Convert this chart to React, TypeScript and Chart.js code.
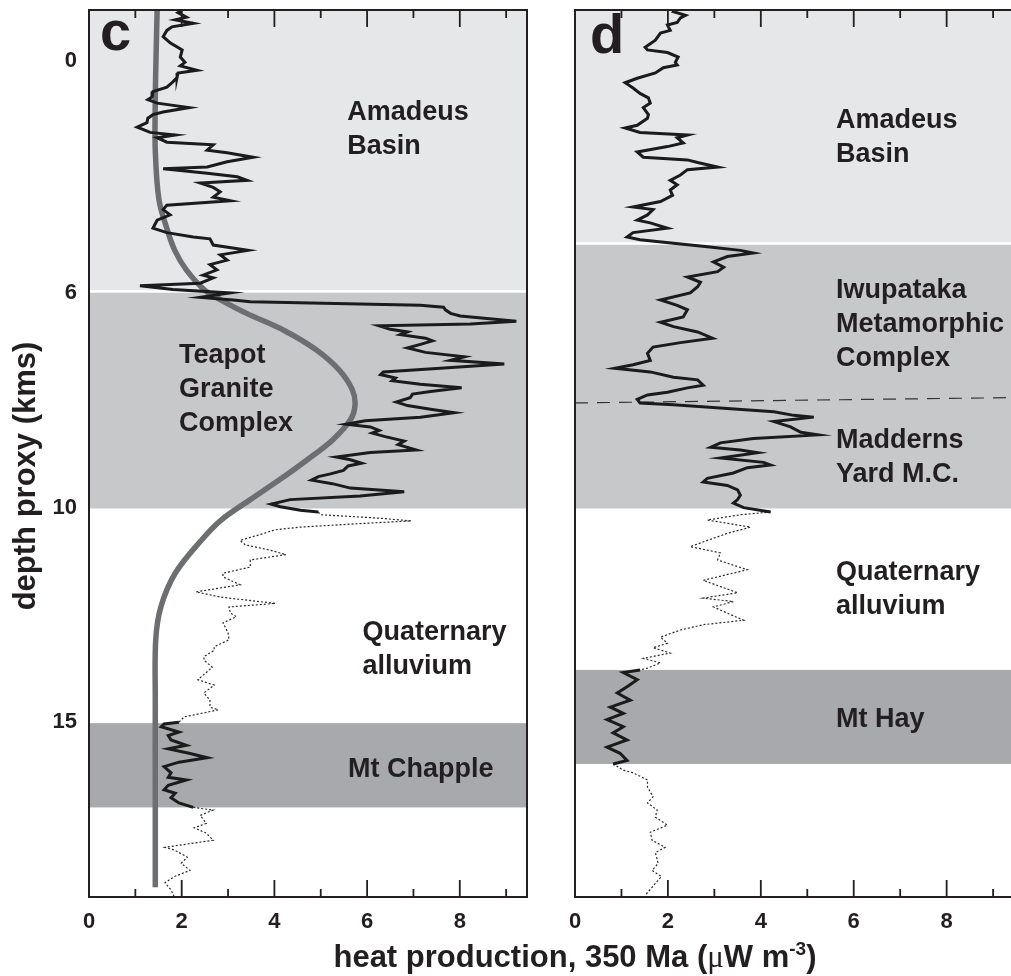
import React, { useEffect, useRef } from "react";
import { Chart, registerables } from "chart.js";

Chart.register(...registerables);

const FONT = '"Liberation Sans", Arial, Helvetica, sans-serif';
const INK = "#231f20";

// ---------------- data ----------------
const X_MAX = 9.45; // heat production axis limit (µW m-3)
const TRAVERSE_MAX = 100; // depth-proxy traverse, arbitrary sample units (top = 0)

const xLabelTicks = [0, 2, 4, 6, 8];
const xMinorTicks = [1, 3, 5, 7, 9];

const yTickPositions = [5.7, 31.9, 56.1, 80.3];
const yTickLabels = ["0", "6", "10", "15"];

// panel c: measured heat production log
const cDepth = [
  0.0, 0.3, 0.8, 1.1, 1.5, 1.9, 2.3, 3.0, 3.7, 4.5, 5.3, 5.9, 6.3, 6.8, 7.1, 7.6, 8.1, 8.7, 9.2, 9.8,
  10.1, 10.5, 11.0, 11.5, 11.8, 12.2, 12.7, 13.2, 13.8, 14.1, 14.4, 14.9, 15.2, 15.8, 16.1, 16.6, 17.1, 17.7, 17.9, 18.4,
  18.8, 19.2, 19.5, 20.0, 20.5, 21.1, 21.5, 22.0, 22.5, 23.1, 23.7, 24.6, 25.1, 25.6, 25.8, 26.5, 27.1, 27.6, 28.2, 28.7,
  29.3, 29.9, 30.2, 30.8, 31.1, 31.5, 31.9, 32.4, 32.7, 32.9, 33.3, 33.5, 33.8, 34.2, 34.5, 35.1, 35.4, 35.6, 36.0, 36.3,
  36.6, 37.0, 37.3, 37.7, 38.1, 38.6, 39.1, 39.5, 39.9, 40.4, 40.8, 41.1, 41.5, 41.8, 42.2, 42.6, 43.0, 43.3, 43.7, 44.2,
  44.6, 45.0, 45.4, 45.9, 46.3, 46.7, 47.0, 47.4, 47.7, 48.1, 48.6, 49.0, 49.6, 49.9, 50.4, 50.7, 51.1, 51.4, 51.9, 52.3,
  52.6, 53.0, 53.4, 53.9, 54.3, 54.8, 55.2, 55.7, 56.0, 56.4, 56.6, 56.9, 57.3, 57.6, 57.9, 58.3, 58.6, 59.2, 59.8, 60.3,
  60.9, 61.4, 62.0, 62.8, 63.5, 63.9, 64.8, 65.6, 66.2, 66.9, 67.3, 68.0, 68.4, 69.1, 70.2, 71.0, 71.8, 72.2, 72.9, 73.3,
  74.1, 75.5, 76.1, 77.0, 77.8, 78.6, 78.9, 79.7, 80.3, 80.5, 80.8, 81.4, 81.8, 82.3, 82.9, 83.3, 83.8, 84.3, 84.8, 85.3,
  86.0, 86.5, 86.8, 87.4, 87.9, 88.3, 88.8, 89.4, 89.9, 90.2, 90.8, 91.7, 92.2, 92.8, 93.6, 94.4, 94.7, 95.5, 96.2, 97.0,
  97.7, 98.4, 99.2, 100.0,
];
const cHeat = [
  2.01, 1.92, 2.1, 1.86, 2.25, 1.79, 1.68, 1.6, 1.75, 2.01, 1.97, 2.07, 1.97, 2.33, 1.92, 1.9, 1.81, 1.68, 1.38, 1.36,
  1.27, 1.47, 2.16, 1.6, 1.38, 1.27, 1.25, 1.04, 1.32, 1.86, 1.47, 1.68, 2.68, 2.55, 2.98, 3.54, 2.98, 2.55, 1.6, 2.55,
  3.2, 3.41, 2.4, 2.68, 2.83, 2.68, 3.05, 1.68, 1.6, 1.75, 1.47, 1.38, 1.68, 2.25, 2.61, 2.68, 3.43, 2.83, 2.98, 2.61,
  2.76, 2.46, 2.68, 2.4, 1.1, 1.81, 3.05, 2.4, 3.11, 3.48, 7.15, 7.65, 7.69, 7.8, 8.01, 9.22, 8.23, 6.26, 6.5, 6.87,
  6.72, 7.26, 7.41, 7.15, 6.87, 7.26, 8.1, 7.8, 8.96, 7.58, 6.35, 6.29, 6.61, 6.54, 7.15, 8.04, 7.37, 6.98, 6.93, 6.63,
  6.87, 7.37, 7.88, 7.15, 5.96, 5.55, 6.07, 6.26, 6.11, 6.39, 6.8, 6.67, 7.06, 6.07, 5.34, 5.64, 5.88, 5.59, 5.49, 5.21,
  4.95, 4.8, 5.25, 5.64, 6.8, 5.85, 4.34, 3.93, 4.13, 4.56, 4.95, 4.99, 6.29, 6.95, 5.85, 4.56, 4.02, 3.65, 3.26, 3.37,
  3.91, 4.25, 3.48, 3.48, 2.89, 2.89, 3.26, 2.31, 2.85, 4.02, 3.02, 3.05, 3.18, 2.89, 3.0, 3.02, 2.7, 2.7, 2.48, 2.48,
  2.66, 2.35, 2.7, 2.48, 2.61, 2.61, 2.79, 2.05, 1.94, 1.62, 1.56, 1.94, 1.71, 1.77, 2.1, 1.71, 2.16, 2.55, 1.94, 1.62,
  1.77, 1.71, 2.1, 1.71, 1.62, 1.86, 1.77, 1.94, 2.25, 2.68, 2.4, 2.53, 2.27, 2.53, 2.68, 1.64, 1.84, 2.12, 1.99, 2.18,
  1.84, 1.64, 1.77, 1.84,
];
// panel c: stretches logged over Quaternary cover (dotted)
const cCoverFrom = [56.6, 89.9];
const cCoverTo = [80.3, 100];
// panel c: modelled smooth heat production (grey curve)
const cModelDepth = [0, 4.5, 10.1, 15.8, 21.4, 24.8, 27.1, 29.3, 31.6, 32.7, 34.2, 36.1, 38.3, 40.6, 42.8, 44.5, 46.2, 48.5, 50.7, 53.0, 55.2, 57.5, 59.8, 63.5, 67.3, 71.0, 77.8, 89.1, 98.9];
const cModelHeat = [1.47, 1.45, 1.43, 1.43, 1.51, 1.69, 1.85, 2.1, 2.5, 2.85, 3.4, 4.2, 4.9, 5.4, 5.68, 5.74, 5.64, 5.25, 4.71, 4.1, 3.48, 2.85, 2.42, 1.86, 1.55, 1.44, 1.43, 1.43, 1.43];
// panel c: geological units
const cUnitTop = [0, 31.7, 56.2, 80.4, 89.9];
const cUnitBase = [31.7, 56.2, 80.4, 89.9, 100];
const cUnitShade = ["light", "medium", "none", "dark", "none"];
const cUnitNames = ["Amadeus\nBasin", "Teapot\nGranite\nComplex", "Quaternary\nalluvium", "Mt Chapple", ""];

// panel d: measured heat production log
const dDepth = [
  0.0, 0.2, 0.6, 0.9, 1.4, 1.7, 2.3, 2.6, 3.4, 4.2, 4.5, 4.8, 5.3, 5.9, 6.2, 6.5, 7.1, 7.7, 8.2, 8.8,
  9.4, 9.9, 10.5, 11.0, 11.8, 12.2, 13.0, 13.3, 13.8, 14.1, 14.4, 15.0, 15.4, 16.0, 16.6, 16.9, 17.2, 17.7, 18.0, 18.6,
  19.2, 19.7, 20.3, 20.9, 21.6, 22.2, 22.5, 23.1, 23.7, 24.0, 24.6, 25.1, 25.6, 25.9, 26.3, 26.7, 27.1, 27.4, 27.8, 28.4,
  29.0, 29.5, 30.1, 30.7, 31.2, 31.9, 32.7, 33.3, 33.8, 34.6, 35.2, 35.7, 36.3, 37.0, 37.5, 38.0, 38.7, 39.5, 40.0, 40.4,
  40.8, 41.4, 41.7, 42.3, 42.6, 43.1, 43.4, 43.9, 44.3, 44.5, 44.9, 45.3, 45.7, 45.9, 46.4, 47.0, 47.6, 47.9, 48.3, 48.8,
  49.3, 49.6, 49.9, 50.5, 51.0, 51.3, 51.6, 52.2, 52.8, 53.2, 53.6, 54.1, 54.7, 55.2, 55.6, 56.1, 56.6, 56.9, 57.5, 58.3,
  59.0, 59.8, 60.5, 61.2, 62.0, 63.1, 64.3, 65.0, 65.7, 66.3, 66.7, 67.3, 68.0, 68.8, 69.3, 69.9, 70.7, 71.4, 71.9, 72.5,
  73.1, 73.6, 74.2, 74.4, 74.7, 75.5, 76.3, 77.0, 77.8, 78.6, 79.3, 80.0, 80.8, 81.5, 82.3, 83.1, 83.8, 84.6, 85.0, 85.7,
  86.0, 86.8, 87.6, 88.7, 89.4, 90.2, 91.0, 91.9, 92.7, 93.6, 94.4, 95.0, 96.2, 97.0, 97.7, 98.9, 99.8,
];
const dHeat = [
  2.15, 2.12, 2.38, 2.27, 2.2, 1.99, 2.05, 1.84, 1.73, 1.51, 1.56, 1.99, 2.22, 2.16, 2.2, 1.9, 1.73, 1.34, 1.08, 1.25,
  1.4, 1.58, 1.62, 1.47, 1.58, 1.56, 1.34, 1.08, 1.4, 2.42, 2.2, 2.33, 1.99, 1.34, 1.47, 2.42, 2.64, 3.07, 2.42, 2.27,
  2.05, 2.2, 2.05, 2.1, 1.84, 1.25, 1.68, 1.56, 1.34, 1.62, 1.99, 1.25, 1.12, 1.4, 2.12, 2.85, 3.56, 3.84, 3.28, 2.98,
  3.2, 3.07, 2.42, 2.7, 2.64, 2.48, 1.84, 2.2, 2.42, 2.33, 1.84, 2.12, 2.64, 2.96, 2.27, 1.68, 1.56, 1.62, 1.25, 0.86,
  1.62, 2.12, 2.64, 2.76, 2.42, 1.99, 1.56, 1.34, 1.4, 2.12, 3.2, 4.28, 4.71, 5.14, 4.28, 4.64, 4.86, 5.23, 3.84, 3.13,
  2.92, 3.56, 3.93, 3.13, 4.06, 4.21, 3.71, 3.41, 2.85, 2.76, 3.28, 3.5, 3.56, 3.5, 3.41, 3.63, 4.21, 3.56, 2.85, 3.78,
  3.28, 2.85, 2.48, 3.13, 3.07, 3.71, 2.76, 3.13, 3.5, 2.76, 3.41, 2.98, 3.28, 3.63, 2.76, 2.27, 1.84, 1.99, 1.68, 2.05,
  1.47, 1.84, 1.56, 1.4, 1.04, 1.34, 1.12, 0.91, 1.19, 0.76, 1.04, 0.69, 1.04, 0.82, 1.12, 0.69, 0.97, 1.12, 0.82, 1.04,
  1.25, 1.56, 1.56, 1.68, 1.56, 1.77, 1.73, 1.99, 1.62, 1.66, 1.94, 1.73, 1.79, 1.66, 1.86, 1.66, 1.51,
];
const dCoverFrom = [56.6, 85.0];
const dCoverTo = [74.4, 100];
// panel d: Iwupataka / Madderns Yard contact (dashed)
const dContactHeat = [0, 9.45];
const dContactDepth = [44.3, 43.7];
const dUnitTop = [0, 26.3, 56.2, 74.4, 85.0];
const dUnitBase = [26.3, 56.2, 74.4, 85.0, 100];
const dUnitShade = ["light", "medium", "none", "dark", "none"];
const dUnitNames = ["Amadeus\nBasin", "Iwupataka\nMetamorphic\nComplex", "Quaternary\nalluvium", "Mt Hay", ""];
const dExtraNames = ["Madderns\nYard M.C."];

// ---------------- layout / style ----------------
const SHADES: Record<string, string> = { light: "#e6e7e9", medium: "#c7c8ca", dark: "#a7a9ac" };

type LabelPos = { x: number; depth: number };

type Panel = {
  letter: string;
  depth: number[];
  heat: number[];
  coverFrom: number[];
  coverTo: number[];
  modelDepth?: number[];
  modelHeat?: number[];
  contactHeat?: number[];
  contactDepth?: number[];
  unitTop: number[];
  unitBase: number[];
  unitShade: string[];
  labels: { text: string; pos: LabelPos }[];
  showDepthAxis: boolean;
  canvasLeft: number;
  canvasWidth: number;
  padding: { left: number; right: number; top: number; bottom: number };
  letterOffset: { dx: number; dy: number };
};

const panelC: Panel = {
  letter: "c",
  depth: cDepth,
  heat: cHeat,
  coverFrom: cCoverFrom,
  coverTo: cCoverTo,
  modelDepth: cModelDepth,
  modelHeat: cModelHeat,
  unitTop: cUnitTop,
  unitBase: cUnitBase,
  unitShade: cUnitShade,
  labels: [
    { text: cUnitNames[0], pos: { x: 5.57, depth: 12.4 } },
    { text: cUnitNames[1], pos: { x: 1.94, depth: 39.8 } },
    { text: cUnitNames[2], pos: { x: 5.9, depth: 71.0 } },
    { text: cUnitNames[3], pos: { x: 5.59, depth: 86.5 } },
  ],
  showDepthAxis: true,
  canvasLeft: 0,
  canvasWidth: 540,
  padding: { left: 0, right: 13, top: 10, bottom: 0 },
  letterOffset: { dx: 11, dy: 40 },
};

const panelD: Panel = {
  letter: "d",
  depth: dDepth,
  heat: dHeat,
  coverFrom: dCoverFrom,
  coverTo: dCoverTo,
  contactHeat: dContactHeat,
  contactDepth: dContactDepth,
  unitTop: dUnitTop,
  unitBase: dUnitBase,
  unitShade: dUnitShade,
  labels: [
    { text: dUnitNames[0], pos: { x: 5.62, depth: 13.3 } },
    { text: dUnitNames[1], pos: { x: 5.62, depth: 32.5 } },
    { text: dExtraNames[0], pos: { x: 5.62, depth: 49.4 } },
    { text: dUnitNames[2], pos: { x: 5.62, depth: 64.3 } },
    { text: dUnitNames[3], pos: { x: 5.62, depth: 80.8 } },
  ],
  showDepthAxis: false,
  canvasLeft: 540,
  canvasWidth: 474,
  padding: { left: 35, right: 0, top: 10, bottom: 0 },
  letterOffset: { dx: 15, dy: 43 },
};

function runsOf(depth: number[], heat: number[], keep: (d: number) => boolean) {
  const runs: { x: number; y: number }[][] = [];
  let cur: { x: number; y: number }[] = [];
  depth.forEach((d, i) => {
    if (keep(d)) cur.push({ x: heat[i], y: d });
    else {
      if (cur.length > 1) runs.push(cur);
      cur = [];
    }
  });
  if (cur.length > 1) runs.push(cur);
  return runs;
}

function makeDeco(panel: Panel) {
  return {
    id: "panelDeco",
    beforeDatasetsDraw(chart: any) {
      const { ctx, chartArea: a, scales } = chart;
      const x = scales.x;
      const y = scales.y;
      ctx.save();
      // unit shading
      panel.unitTop.forEach((t, i) => {
        const shade = SHADES[panel.unitShade[i]];
        if (!shade) return;
        const y0 = y.getPixelForValue(t);
        const y1 = y.getPixelForValue(panel.unitBase[i]);
        ctx.fillStyle = shade;
        ctx.fillRect(a.left, y0, a.right - a.left, y1 - y0);
      });
      // white line between the basin and the basement
      const sep = y.getPixelForValue(panel.unitBase[0]);
      ctx.fillStyle = "#ffffff";
      ctx.fillRect(a.left, sep - 1, a.right - a.left, 2.5);
      // unit names
      ctx.fillStyle = INK;
      ctx.font = `bold 27px ${FONT}`;
      ctx.textAlign = "left";
      ctx.textBaseline = "alphabetic";
      panel.labels.forEach((l) => {
        const px = x.getPixelForValue(l.pos.x);
        const py = y.getPixelForValue(l.pos.depth);
        l.text.split("\n").forEach((line, k) => ctx.fillText(line, px, py + k * 34));
      });
      ctx.restore();
    },
    afterDatasetsDraw(chart: any) {
      const { ctx, chartArea: a, scales } = chart;
      const x = scales.x;
      ctx.save();
      // frame
      ctx.strokeStyle = INK;
      ctx.lineWidth = 2;
      ctx.strokeRect(a.left, a.top, a.right - a.left, a.bottom - a.top);
      // inward ticks top & bottom
      ctx.lineWidth = 1.8;
      const ticks = [...xLabelTicks.map((v) => ({ v, major: true })), ...xMinorTicks.map((v) => ({ v, major: false }))];
      ticks.forEach(({ v, major }) => {
        if (v <= 0) return;
        const px = x.getPixelForValue(v);
        if (px > a.right - 1) return;
        const len = major ? 17 : 8;
        ctx.beginPath();
        ctx.moveTo(px, a.bottom);
        ctx.lineTo(px, a.bottom - len);
        ctx.moveTo(px, a.top);
        ctx.lineTo(px, a.top + len);
        ctx.stroke();
      });
      // panel letter
      ctx.fillStyle = INK;
      ctx.font = `bold 56px ${FONT}`;
      ctx.textAlign = "left";
      ctx.textBaseline = "alphabetic";
      ctx.fillText(panel.letter, a.left + panel.letterOffset.dx, a.top + panel.letterOffset.dy);
      // depth axis title
      if (panel.showDepthAxis) {
        ctx.translate(a.left - 54.5, 476);
        ctx.rotate(-Math.PI / 2);
        ctx.font = `bold 31px ${FONT}`;
        ctx.textAlign = "center";
        ctx.fillText("depth proxy (kms)", 0, 0);
      }
      ctx.restore();
    },
  };
}

function buildConfig(panel: Panel): any {
  const datasets: any[] = [];
  const inCover = (d: number) => panel.coverFrom.some((f, i) => d >= f - 1e-6 && d <= panel.coverTo[i] + 1e-6);
  const inOutcrop = (d: number) => !panel.coverFrom.some((f, i) => d > f + 1e-6 && d < panel.coverTo[i] - 1e-6);

  runsOf(panel.depth, panel.heat, inOutcrop).forEach((r) =>
    datasets.push({
      data: r,
      showLine: true,
      borderColor: "#1b1b1b",
      borderWidth: 3,
      pointRadius: 0,
      tension: 0,
      borderJoinStyle: "miter",
      order: 1,
    })
  );
  runsOf(panel.depth, panel.heat, inCover).forEach((r) =>
    datasets.push({
      data: r,
      showLine: true,
      borderColor: "#2a2a2a",
      borderWidth: 1.2,
      borderDash: [2, 2],
      pointRadius: 0,
      tension: 0,
      order: 3,
    })
  );
  if (panel.modelDepth && panel.modelHeat) {
    const mh = panel.modelHeat;
    datasets.push({
      data: panel.modelDepth.map((d, i) => ({ x: mh[i], y: d })),
      showLine: true,
      borderColor: "#6d6e71",
      borderWidth: 5.5,
      pointRadius: 0,
      tension: 0.35,
      borderCapStyle: "butt",
      order: 5,
    });
  }
  if (panel.contactDepth && panel.contactHeat) {
    const cd = panel.contactDepth;
    datasets.push({
      data: panel.contactHeat.map((h, i) => ({ x: h, y: cd[i] })),
      showLine: true,
      borderColor: "#333333",
      borderWidth: 1.2,
      borderDash: [13, 9],
      pointRadius: 0,
      tension: 0,
      order: 2,
    });
  }

  const tickFont = { family: FONT, size: 22, weight: "bold" as const };
  const yWidth = panel.showDepthAxis ? 89 : 0;

  return {
    type: "scatter",
    data: { datasets },
    options: {
      animation: false,
      responsive: false,
      maintainAspectRatio: false,
      events: [],
      layout: { padding: panel.padding },
      plugins: { legend: { display: false }, tooltip: { enabled: false }, title: { display: false } },
      scales: {
        x: {
          type: "linear",
          min: 0,
          max: X_MAX,
          position: "bottom",
          grid: { display: false, drawTicks: false, tickLength: 0 },
          border: { display: false },
          ticks: {
            font: tickFont,
            color: INK,
            padding: 12,
            autoSkip: false,
            maxRotation: 0,
            callback: (v: number, i: number) => String(xLabelTicks[i]),
          },
          afterBuildTicks: (s: any) => {
            s.ticks = xLabelTicks.map((v) => ({ value: v }));
          },
          afterFit: (s: any) => {
            s.height = 79;
            s.paddingLeft = 0;
            s.paddingRight = 0;
            s.paddingTop = 0;
            s.paddingBottom = 0;
          },
        },
        y: {
          type: "linear",
          min: 0,
          max: TRAVERSE_MAX,
          reverse: true,
          display: panel.showDepthAxis,
          grid: { display: false, drawTicks: false, tickLength: 0 },
          border: { display: false },
          ticks: {
            font: tickFont,
            color: INK,
            padding: 12,
            autoSkip: false,
            callback: (v: number, i: number) => yTickLabels[i],
          },
          afterBuildTicks: (s: any) => {
            s.ticks = yTickPositions.map((v) => ({ value: v }));
          },
          afterFit: (s: any) => {
            s.width = yWidth;
            s.paddingLeft = 0;
            s.paddingRight = 0;
            s.paddingTop = 0;
            s.paddingBottom = 0;
          },
        },
      },
    },
    plugins: [makeDeco(panel)],
  };
}

function PanelChart({ panel }: { panel: Panel }) {
  const ref = useRef<HTMLCanvasElement>(null);
  useEffect(() => {
    if (!ref.current) return;
    const chart = new Chart(ref.current, buildConfig(panel));
    return () => chart.destroy();
  }, [panel]);
  return (
    <canvas
      ref={ref}
      width={panel.canvasWidth}
      height={976}
      style={{ position: "absolute", left: panel.canvasLeft, top: 0, width: panel.canvasWidth, height: 976 }}
    />
  );
}

export default function App() {
  return (
    <div
      style={{
        position: "absolute",
        left: 0,
        top: 0,
        width: 1011,
        height: 976,
        overflow: "hidden",
        background: "#ffffff",
      }}
    >
      <PanelChart panel={panelC} />
      <PanelChart panel={panelD} />
      <div
        style={{
          position: "absolute",
          left: 275,
          top: 941,
          width: 600,
          textAlign: "center",
          fontFamily: FONT,
          fontWeight: "bold",
          fontSize: 31,
          lineHeight: "31px",
          color: INK,
          whiteSpace: "nowrap",
        }}
      >
        heat production, 350 Ma (
        <span style={{ fontFamily: '"Liberation Serif", "DejaVu Serif", serif', fontWeight: "normal" }}>μ</span>W m
        <span style={{ fontSize: 19, position: "relative", top: -12 }}>-3</span>)
      </div>
    </div>
  );
}
